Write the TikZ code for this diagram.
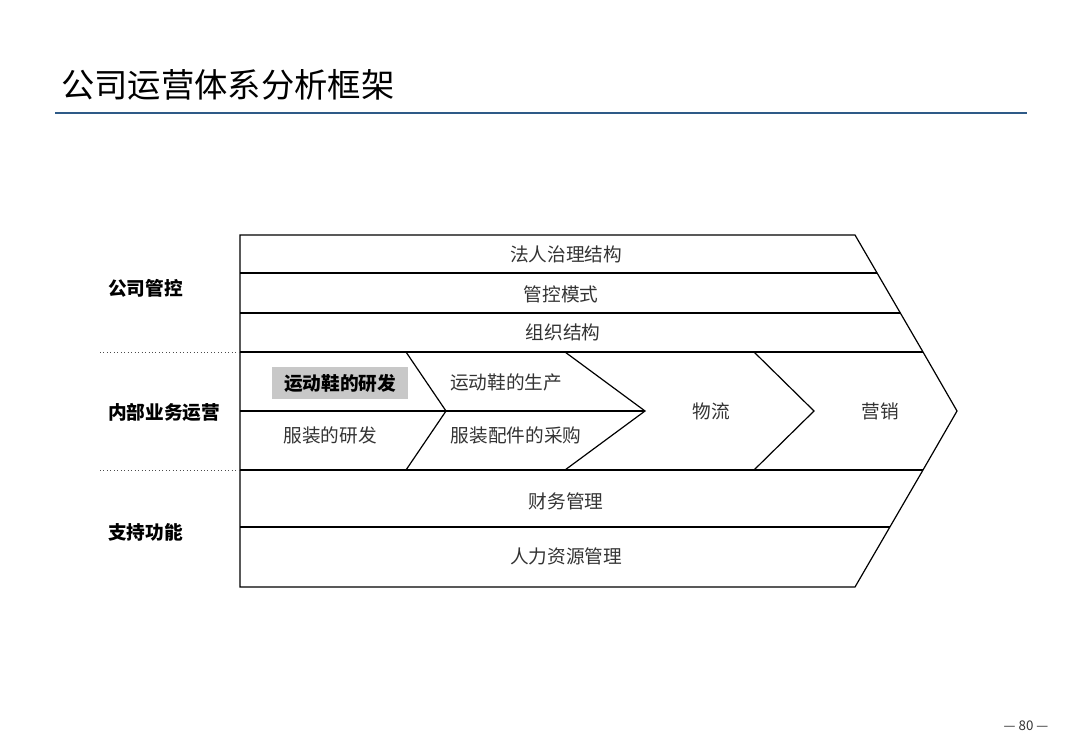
\documentclass[tikz,border=0pt]{standalone}
\usepackage{fontspec}
\setmainfont{Noto Sans CJK SC}
\usepackage{tikz}
\usetikzlibrary{calc,positioning}
\definecolor{frameNavy}{HTML}{2E5A87}
\definecolor{frameGray}{HTML}{C8C8C8}
\definecolor{frameText}{HTML}{333333}

\begin{document}
\begin{tikzpicture}[x=0.75pt,y=-0.75pt,
  ln/.style={draw=black,line width=0.9pt,line join=miter},
  dl/.style={draw=black!70,dotted,line width=0.6pt},
  t/.style={font=\fontsize{14}{16}\selectfont,text=frameText,inner sep=0pt},
  lb/.style={font=\fontsize{14}{16}\selectfont\bfseries,text=black,inner sep=0pt},
  hl/.style={fill=frameGray,minimum width=102pt,minimum height=24pt,inner sep=0pt,
             font=\fontsize{14}{16}\selectfont\bfseries}]
  \useasboundingbox (0,0) rectangle (1080,748);
  % title
  \node[anchor=west,font=\fontsize{25}{28}\selectfont,inner sep=0pt] (ttl) at (61,85) {公司运营体系分析框架};
  \draw[frameNavy,line width=1.4pt] (55,113) -- (1027,113);
  % outline
  \draw[ln] (240,235) -- (855,235) -- (923,352) -- (957,411) -- (923,470) -- (855,587) -- (240,587) -- cycle;
  \draw[ln] (240,273) -- (877,273);
  \draw[ln] (240,313) -- (900,313);
  \draw[ln] (240,352) -- (923,352);
  \draw[ln] (240,470) -- (923,470);
  \draw[ln] (240,527) -- (890,527);
  \draw[ln] (240,411) -- (645,411);
  % chevrons
  \draw[ln] (406,352) -- (446,411) -- (406,470);
  \draw[ln] (565,352) -- (645,411) -- (565,470);
  \draw[ln] (754,352) -- (814,411) -- (754,470);
  \draw[dl] (100,352) -- (240,352);
  \draw[dl] (100,470) -- (240,470);
  % row texts
  \node[t] (fr)  at (566,254) {法人治理结构};
  \node[t] (gk)  at (561,294) {管控模式};
  \node[t] (zz)  at (563,332) {组织结构};
  \node[hl] (yf) at (340,383) {运动鞋的研发};
  \node[t] (sc)  at (506,382) {运动鞋的生产};
  \node[t] (fy)  at (330,435) {服装的研发};
  \node[t] (cg)  at (516,435) {服装配件的采购};
  \node[t] (wl)  at (711,411) {物流};
  \node[t] (yx)  at (880,411) {营销};
  \node[t] (cw)  at (566,501) {财务管理};
  \node[t] (rl)  at (566,556) {人力资源管理};
  % side labels
  \node[lb,anchor=west] (gs) at (108,288) {公司管控};
  \node[lb,anchor=west] (nb) at (108,412) {内部业务运营};
  \node[lb,anchor=west] (zc) at (108,532) {支持功能};
  \node[font=\fontsize{10}{12}\selectfont,text=frameText,inner sep=0pt] (pg) at (1026,726) {— 80 —};
\end{tikzpicture}
\end{document}
